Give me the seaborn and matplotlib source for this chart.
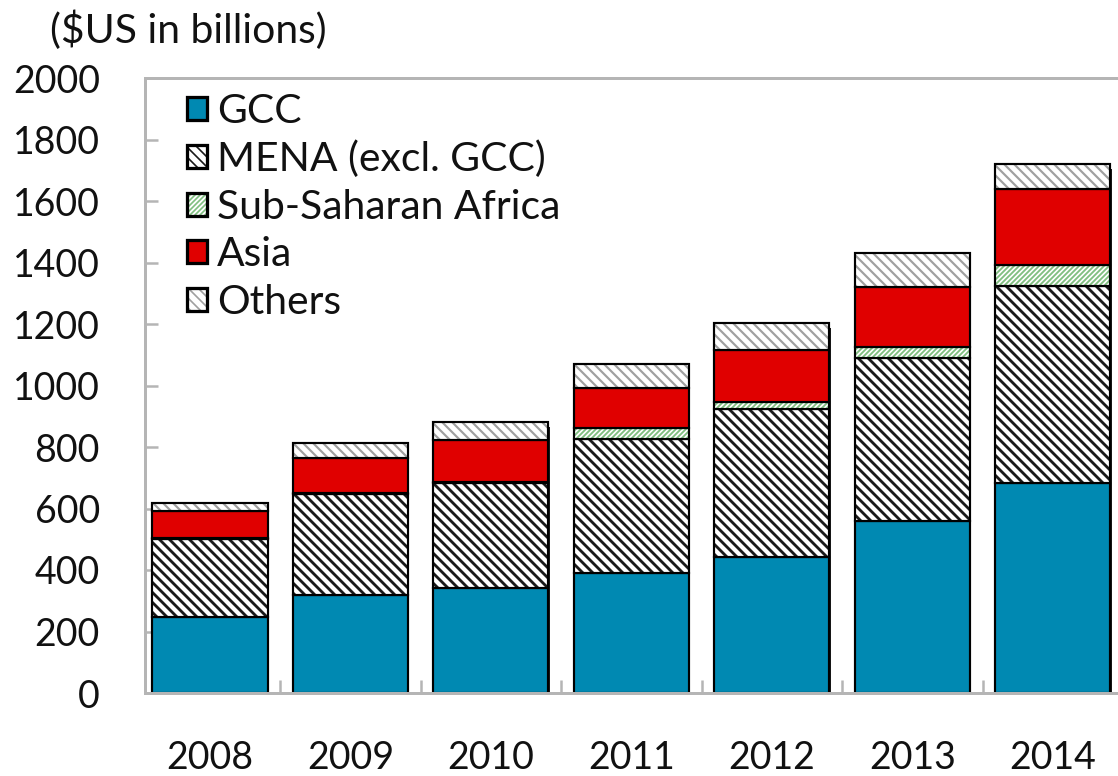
import numpy as np
import pandas as pd
import matplotlib
matplotlib.use("Agg")
import matplotlib.pyplot as plt
import seaborn as sns
from matplotlib.patches import Patch
from matplotlib.legend_handler import HandlerTuple
from matplotlib import patheffects as pe

# ---------------- data ----------------
years = ["2008", "2009", "2010", "2011", "2012", "2013", "2014"]
gcc = [247, 320, 341, 390, 442, 559, 683]
mena = [254, 327, 342, 436, 482, 530, 641]
ssa = [3, 3, 3, 35, 22, 36, 68]
asia = [88, 114, 137, 131, 169, 195, 247]
others = [26, 49, 58, 78, 88, 111, 81]
series_names = ["GCC", "MENA (excl. GCC)", "Sub-Saharan Africa", "Asia", "Others"]
y_ticks = [0, 200, 400, 600, 800, 1000, 1200, 1400, 1600, 1800, 2000]
unit_label = "($US in billions)"

series_values = [gcc, mena, ssa, asia, others]

# ---------------- styles ----------------
styles = [
    dict(face="#0089B2", hatch=None, hcolor="#0089B2", hlw=1.0),
    dict(face="white", hatch="\\\\\\\\", hcolor="#1a1a1a", hlw=1.7),
    dict(face="white", hatch="////////", hcolor="#7fbf7f", hlw=1.1),
    dict(face="#E00000", hatch=None, hcolor="#E00000", hlw=1.0),
    dict(face="white", hatch="\\\\\\\\", hcolor="#a0a0a0", hlw=1.3),
]
GRAY = "#b5b5b5"
BAR_W = 0.82
EDGE_LW = 1.3

sns.set_theme(style="white")
plt.rcParams["font.family"] = ["Lato", "DejaVu Sans"]
plt.rcParams["text.color"] = "#111111"

DPI = 120
fig = plt.figure(figsize=(1118 / DPI, 776 / DPI), dpi=DPI)
W, H = 1118, 776
ax_left, ax_right, ax_top, ax_bottom = 145, 1123, 78, 693
ax = fig.add_axes([ax_left / W, 1 - ax_bottom / H, (ax_right - ax_left) / W, (ax_bottom - ax_top) / H])

df = pd.DataFrame({"year": years})
for name, vals in zip(series_names, series_values):
    df[name] = vals
totals = df[series_names].sum(axis=1).tolist()

# shadow layer (total bar)
sns.barplot(x=years, y=totals, color="white", saturation=1, width=BAR_W,
            errorbar=None, linewidth=0, ax=ax)
for p in ax.containers[-1]:
    p.set_path_effects([pe.SimplePatchShadow(offset=(0.8, -3.2), shadow_rgbFace="black", alpha=0.9), pe.Normal()])

bottom = np.zeros(len(years))
for name, st in zip(series_names, styles):
    vals = df[name].to_numpy()
    with plt.rc_context({"hatch.linewidth": st["hlw"]}):
        sns.barplot(x=years, y=vals, bottom=bottom, color=st["face"], saturation=1,
                    width=BAR_W, errorbar=None, hatch=st["hatch"],
                    edgecolor=st["hcolor"], linewidth=0, ax=ax)
    for p in ax.containers[-1]:
        if hasattr(p, "set_hatch_linewidth"):
            p.set_hatch_linewidth(st["hlw"])
    sns.barplot(x=years, y=vals, bottom=bottom, fill=False, color="black",
                width=BAR_W, errorbar=None, linewidth=EDGE_LW, ax=ax)
    bottom = bottom + vals

# axes styling
ax.set_ylim(0, 2000)
ax.set_xlim(-0.4626, 6.5)
ax.set_yticks(y_ticks)
ax.set_yticklabels([str(t) for t in y_ticks])
ax.set_xticks(range(len(years)))
ax.set_xticklabels(years)
ax.set_xticks([i + 0.5 for i in range(len(years))], minor=True)
ax.set_xlabel("")
ax.set_ylabel("")
for s in ax.spines.values():
    s.set_visible(True)
    s.set_color(GRAY)
    s.set_linewidth(1.8)
ax.tick_params(axis="y", direction="in", length=8, width=1.5, color=GRAY,
               pad=27, labelsize=22.5, labelcolor="#111111", left=True)
ax.tick_params(axis="x", which="major", length=0, pad=28, labelsize=22.5, labelcolor="#111111")
ax.tick_params(axis="x", which="minor", direction="in", length=8, width=1.5, color=GRAY, bottom=True)
ax.grid(False)

# legend
handles = []
for st in styles:
    with plt.rc_context({"hatch.linewidth": st["hlw"] * 0.8}):
        h1 = Patch(facecolor=st["face"], hatch=st["hatch"], edgecolor=st["hcolor"], linewidth=0)
    h2 = Patch(facecolor="none", edgecolor="black", linewidth=EDGE_LW * 1.5)
    handles.append((h1, h2))
leg = ax.legend(handles, series_names, handler_map={tuple: HandlerTuple(ndivide=1, pad=0)},
                loc="upper left", bbox_to_anchor=(42 / 978, 0.976), frameon=False, fontsize=24.5,
                handlelength=0.49, handleheight=0.49, handletextpad=0.25, labelspacing=0.26,
                borderaxespad=0, borderpad=0)

fig.text(50 / W, 1 - 30 / H, unit_label, ha="left", va="center", fontsize=24.5)

fig.savefig("out.png", dpi=DPI)
